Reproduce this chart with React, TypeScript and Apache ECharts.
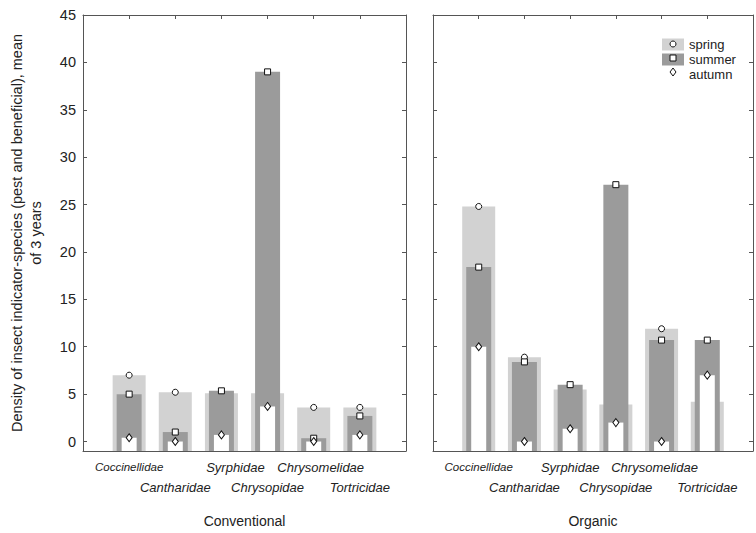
import React, { useEffect, useRef } from 'react';
import * as echarts from 'echarts';

const categories = ['Coccinellidae', 'Cantharidae', 'Syrphidae', 'Chrysopidae', 'Chrysomelidae', 'Tortricidae'];
const panels = ['Conventional', 'Organic'];
const seasons = ['spring', 'summer', 'autumn'];

const convSpring = [7.0, 5.2, 5.1, 5.1, 3.6, 3.6];
const convSummer = [5.0, 1.0, 5.35, 39.0, 0.35, 2.7];
const convAutumn = [0.4, 0.0, 0.7, 3.7, 0.0, 0.7];

const orgSpring = [24.8, 8.9, 5.5, 3.9, 11.9, 4.2];
const orgSummer = [18.4, 8.4, 6.0, 27.1, 10.7, 10.7];
const orgAutumn = [10.0, 0.0, 1.35, 2.0, 0.0, 7.0];

const yTicksMin = -1;
const yTicksMax = 45;

// horizontal nudges (px) of the category labels, per panel (style only)
const labelShift = [
  [0, 0, 14, 0, 7, 0],
  [0, 0, 0, 0, -7, 0],
];

const FONT = '"Liberation Sans", Arial, Helvetica, sans-serif';
const AX = '#555555';
const TXT = '#222222';
const LIGHT = '#d2d2d2';
const DARK = '#9b9b9b';

export default function App() {
  const ref = useRef<HTMLDivElement>(null);
  useEffect(() => {
    if (!ref.current) return;
    const chart = echarts.init(ref.current, undefined, { renderer: 'svg' });
    const grids = [
      { left: 83, top: 15, width: 323, height: 438 },
      { left: 433, top: 15, width: 321, height: 438 },
    ];
    const data = [
      [convSpring, convSummer, convAutumn],
      [orgSpring, orgSummer, orgAutumn],
    ];
    const pairs = (vals: number[]) => vals.map((v, i) => [i + 1, v]);
    const lineStyle = { color: AX, width: 1 };
    const makeRich = (g: number) => {
      const rich: any = {};
      categories.forEach((c, i) => {
        const s = labelShift[g][i];
        rich['c' + i] = {
          fontSize: i === 0 ? 11.5 : 13,
          fontStyle: 'italic',
          fontFamily: FONT,
          color: TXT,
          padding: [i % 2 === 1 ? 20 : 0, s < 0 ? -2 * s : 0, 0, s > 0 ? 2 * s : 0],
        };
      });
      return rich;
    };
    const xAxis: any[] = [];
    const yAxis: any[] = [];
    const series: any[] = [];
    [0, 1].forEach((g) => {
      xAxis.push({
        type: 'value', gridIndex: g, min: 0, max: 7, interval: 1, position: 'bottom',
        axisLine: { show: true, onZero: false, lineStyle },
        axisTick: { show: true, inside: true, length: 4, lineStyle },
        axisLabel: {
          margin: 10,
          formatter: (v: number) => {
            const i = Math.round(v) - 1;
            if (i < 0 || i > 5 || Math.abs(v - Math.round(v)) > 1e-6) return '';
            return '{c' + i + '|' + categories[i] + '}';
          },
          rich: makeRich(g),
        },
        splitLine: { show: false },
        name: panels[g], nameLocation: 'middle', nameGap: 63,
        nameTextStyle: { fontSize: 14, fontFamily: FONT, color: TXT },
      });
      xAxis.push({ type: 'value', gridIndex: g, min: 0, max: 7, show: false, position: 'bottom', axisLine: { onZero: false } });
      xAxis.push({ type: 'value', gridIndex: g, min: 0, max: 7, show: false, position: 'bottom', axisLine: { onZero: false } });
      xAxis.push({
        type: 'value', gridIndex: g, min: 0, max: 7, interval: 1, position: 'top',
        axisLine: { show: true, onZero: false, lineStyle },
        axisTick: { show: true, inside: true, length: 4, lineStyle },
        axisLabel: { show: false }, splitLine: { show: false },
      });
      yAxis.push({
        type: 'value', gridIndex: g, min: yTicksMin, max: yTicksMax, splitNumber: 9, startValue: yTicksMin,
        position: 'left',
        axisLine: { show: true, onZero: false, lineStyle },
        axisTick: { show: true, inside: true, length: 4, lineStyle },
        axisLabel: {
          show: g === 0, margin: 7, fontSize: 14.5, fontFamily: FONT, color: TXT,
          formatter: (v: number) => (v < 0 ? '' : String(v)),
        },
        splitLine: { show: false },
        name: g === 0 ? 'Density of insect indicator-species (pest and beneficial), mean\nof 3 years' : '',
        nameLocation: 'middle', nameGap: 38,
        nameTextStyle: { fontSize: 14.5, lineHeight: 19, fontFamily: FONT, color: TXT },
      });
      yAxis.push({
        type: 'value', gridIndex: g, min: yTicksMin, max: yTicksMax, splitNumber: 9, startValue: yTicksMin,
        position: 'right',
        axisLine: { show: true, onZero: false, lineStyle },
        axisTick: { show: true, inside: true, length: 4, lineStyle },
        axisLabel: { show: false }, splitLine: { show: false },
      });
      const [sp, su, au] = data[g];
      const yi = 2 * g;
      series.push({ type: 'bar', name: seasons[0], xAxisIndex: 4 * g, yAxisIndex: yi, data: pairs(sp), barWidth: 33, itemStyle: { color: LIGHT }, z: 1 });
      series.push({ type: 'scatter', name: 'spring mean', xAxisIndex: 4 * g, yAxisIndex: yi, data: pairs(sp), symbol: 'circle', symbolSize: 6, itemStyle: { color: '#fff', borderColor: '#111', borderWidth: 1, opacity: 1 }, z: 2 });
      series.push({ type: 'bar', name: seasons[1], xAxisIndex: 4 * g + 1, yAxisIndex: yi, data: pairs(su), barWidth: 25, itemStyle: { color: DARK }, z: 3 });
      series.push({ type: 'scatter', name: 'summer mean', xAxisIndex: 4 * g + 1, yAxisIndex: yi, data: pairs(su), symbol: 'rect', symbolSize: 6, itemStyle: { color: '#fff', borderColor: '#111', borderWidth: 1, opacity: 1 }, z: 4 });
      series.push({ type: 'bar', name: seasons[2], xAxisIndex: 4 * g + 2, yAxisIndex: yi, data: pairs(au), barWidth: 15, itemStyle: { color: '#ffffff' }, z: 5 });
      series.push({ type: 'scatter', name: 'autumn mean', xAxisIndex: 4 * g + 2, yAxisIndex: yi, data: pairs(au), symbol: 'diamond', symbolSize: [6, 8], itemStyle: { color: '#fff', borderColor: '#111', borderWidth: 1, opacity: 1 }, z: 6 });
    });

    const lx = 662, ly = 38;
    chart.setOption({
      animation: false,
      textStyle: { fontFamily: FONT },
      grid: grids,
      xAxis,
      yAxis,
      series,
      legend: {
        data: seasons, orient: 'vertical', left: lx, top: ly, itemWidth: 22, itemHeight: 12, itemGap: 2,
        icon: 'rect', padding: 0, selectedMode: false,
        textStyle: { fontSize: 13, fontFamily: FONT, color: TXT },
      },
      graphic: [
        { type: 'circle', shape: { cx: lx + 11, cy: ly + 6, r: 3 }, style: { fill: '#fff', stroke: '#111', lineWidth: 1 }, z: 100 },
        { type: 'rect', shape: { x: lx + 8, y: ly + 6 + 14 - 3, width: 6, height: 6 }, style: { fill: '#fff', stroke: '#111', lineWidth: 1 }, z: 100 },
        { type: 'polygon', shape: { points: [[lx + 11, ly + 34 - 4], [lx + 14, ly + 34], [lx + 11, ly + 34 + 4], [lx + 8, ly + 34]] }, style: { fill: '#fff', stroke: '#111', lineWidth: 1 }, z: 100 },
      ],
    });
    return () => chart.dispose();
  }, []);
  return <div ref={ref} style={{ position: 'absolute', left: 0, top: 0, width: 756, height: 533 }} />;
}
